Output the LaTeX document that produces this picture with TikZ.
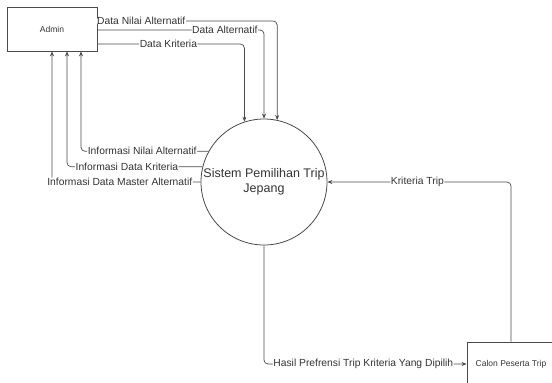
\documentclass[tikz,border=0pt]{standalone}
\usepackage{fontspec}
\setmainfont{Liberation Sans}
\usetikzlibrary{arrows.meta}
\definecolor{ln}{HTML}{4A4A4A}
\definecolor{tx}{HTML}{333333}
\tikzset{
  entity/.style={draw=ln, line width=0.8pt, rectangle, minimum width=90pt, minimum height=44pt, font=\fontsize{8.5}{10}\selectfont, text=tx, inner sep=0pt},
  proc/.style={draw=ln, line width=0.8pt, circle, minimum size=126pt, inner sep=0pt, font=\fontsize{12.5}{15}\selectfont, text=tx, align=center},
  flow/.style={draw=ln, line width=0.7pt, rounded corners=4pt, -{Stealth[length=5pt,width=4pt]}},
  lbl/.style={fill=white, inner sep=0.6pt, font=\fontsize{10.3}{12}\selectfont, text=tx}
}
\begin{document}
\begin{tikzpicture}[x=1pt,y=-1pt]
\useasboundingbox (0,0) rectangle (552,383);
\node[entity] (admin) at (52,29) {Admin};
\node[proc] (c) at (264,182) {Sistem Pemilihan Trip\\Jepang};
\node[entity, minimum width=88pt] (calon) at (511,364) {Calon Peserta Trip};

% Admin -> Sistem
\coordinate (s1) at ([yshift=8pt]admin.east);
\coordinate (s2) at ([yshift=-1pt]admin.east);
\coordinate (s3) at ([yshift=-15pt]admin.east);
\draw[flow] (s1) -- node[lbl, pos=0.244]{Data Nilai Alternatif} (s1 -| c.78) -- (c.78);
\draw[flow] (s2) -- node[lbl, pos=0.765]{Data Alternatif} (s2 -| c.90) -- (c.90);
\draw[flow] (s3) -- node[lbl, pos=0.483]{Data Kriteria} (s3 -| c.108.5) -- (c.108.5);

% Sistem -> Admin
\coordinate (t1) at ([xshift=29pt]admin.south);
\coordinate (t2) at ([xshift=15pt]admin.south);
\coordinate (t3) at (admin.south);
\draw[flow] (c.151.6) -- node[lbl, pos=0.52]{Informasi Nilai Alternatif} (c.151.6 -| t1) -- (t1);
\draw[flow] (c.166.2) -- node[lbl, pos=0.558]{Informasi Data Kriteria} (c.166.2 -| t2) -- (t2);
\draw[flow] (c.west) -- node[lbl, pos=0.544]{Informasi Data Master Alternatif} (c.west -| t3) -- (t3);

% Calon -> Sistem
\draw[flow] (calon.north) -- (calon.north |- c.east) -- node[lbl, pos=0.51]{Kriteria Trip} (c.east);

% Sistem -> Calon
\draw[flow] (c.south) -- (c.south |- calon.west) -- node[lbl, pos=0.49]{Hasil Prefrensi Trip Kriteria Yang Dipilih} (calon.west);
\end{tikzpicture}
\end{document}
